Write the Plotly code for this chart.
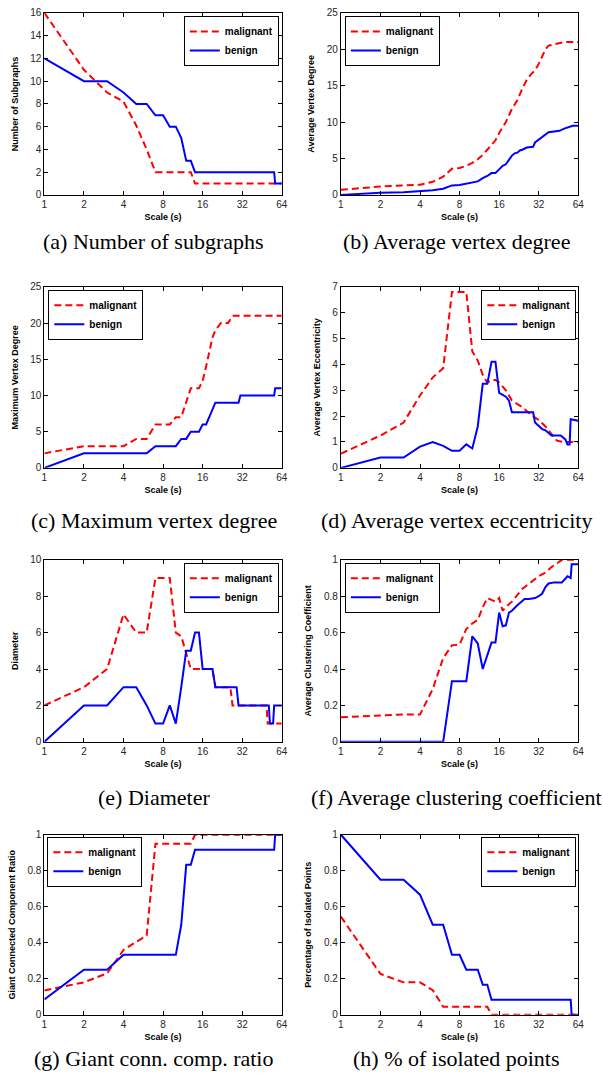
import plotly.graph_objects as go
from plotly.subplots import make_subplots

# ---------------- data ----------------
x_ticks = [1, 2, 4, 8, 16, 32, 64]
x_tick_labels = ["1", "2", "4", "8", "16", "32", "64"]
series_names = ["malignant", "benign"]

# (a) Number of subgraphs
a_mal_s = [1, 2, 3, 4, 5, 6, 7, 13, 14, 64]
a_mal_y = [16, 11, 9, 8.2, 6.1, 4, 2, 2, 1, 1]
a_ben_s = [1, 2, 3, 4, 5, 6, 7, 8, 9, 10, 11, 12, 13, 14, 56, 57, 64]
a_ben_y = [12, 10, 10, 9, 8, 8, 7, 7, 6, 6, 5, 3, 3, 2, 2, 1, 1]

# (b) Average vertex degree
b_mal_s = [1, 2, 3, 4, 5, 6, 7, 8, 9, 10, 11, 12, 13, 14, 15, 16, 17, 18, 20, 22, 24, 26, 28, 30, 32, 34, 36, 38, 40, 44, 50, 64]
b_mal_y = [0.7, 1.15, 1.3, 1.4, 1.8, 2.5, 3.6, 3.7, 4.0, 4.4, 4.9, 5.5, 6.2, 6.8, 7.5, 8.5, 9.2, 10.0, 11.8, 13.0, 14.6, 15.8, 16.6, 17.1, 18.0, 19.0, 20.0, 20.5, 20.6, 20.8, 21.0, 21.0]
b_ben_s = [1, 2, 3, 4, 5, 6, 7, 8, 9, 10, 11, 12, 13, 14, 15, 16, 17, 18, 19, 20, 21, 22, 23, 24, 26, 28, 29, 30, 32, 34, 36, 38, 42, 46, 50, 55, 58, 64]
b_ben_y = [0.0, 0.3, 0.35, 0.5, 0.65, 0.85, 1.3, 1.35, 1.5, 1.7, 1.85, 2.3, 2.6, 3.0, 3.0, 3.5, 4.0, 4.2, 4.8, 5.4, 5.7, 5.8, 6.1, 6.2, 6.5, 6.5, 6.6, 7.2, 7.6, 7.9, 8.3, 8.6, 8.7, 8.8, 9.1, 9.3, 9.5, 9.5]

# (c) Maximum vertex degree
c_mal_s = [1, 2, 4, 5, 6, 7, 9, 10, 11, 12, 13, 15, 16, 17, 18, 19, 20, 22, 25, 27, 64]
c_mal_y = [2, 3, 3, 4, 4, 6, 6, 7, 7, 9, 11, 11, 12, 14, 16, 18, 19, 20, 20, 21, 21]
c_ben_s = [1, 2, 6, 7, 10, 11, 12, 13, 15, 16, 17, 18, 20, 30, 31, 56, 57, 64]
c_ben_y = [0, 2, 2, 3, 3, 4, 4, 5, 5, 6, 6, 7, 9, 9, 10, 10, 11, 11]

# (d) Average vertex eccentricity
d_mal_s = [1, 2, 3, 4, 5, 6, 7, 8, 9, 10, 11, 12, 13, 14, 15, 16, 18, 20, 24, 28, 32, 36, 40, 44, 50, 64]
d_mal_y = [0.55, 1.25, 1.75, 2.8, 3.5, 3.85, 6.8, 6.8, 6.8, 4.5, 4.15, 3.6, 3.3, 3.4, 3.4, 3.3, 3.0, 2.6, 2.35, 2.05, 1.85, 1.6, 1.3, 1.05, 1.0, 1.0]
d_ben_s = [1, 2, 3, 4, 5, 6, 7, 8, 9, 10, 11, 12, 13, 14, 15, 16, 18, 19, 20, 29, 30, 32, 34, 36, 38, 40, 47, 51, 53, 55, 56, 64]
d_ben_y = [0.0, 0.4, 0.4, 0.82, 1.0, 0.85, 0.66, 0.66, 0.91, 0.75, 1.6, 3.25, 3.25, 4.1, 4.1, 2.9, 2.75, 2.6, 2.15, 2.15, 1.75, 1.6, 1.5, 1.45, 1.35, 1.25, 1.25, 1.1, 0.9, 0.9, 1.88, 1.82]

# (e) Diameter
e_mal_s = [1, 2, 3, 4, 5, 6, 7, 9, 10, 11, 13, 19, 20, 26, 27, 49, 50, 64]
e_mal_y = [2, 3, 4, 7, 6, 6, 9, 9, 6, 5.8, 4, 4, 3, 3, 2, 2, 1, 1]
e_ben_s = [1, 2, 3, 4, 5, 6, 7, 8, 9, 10, 11, 12, 13, 14, 15, 16, 19, 20, 29, 30, 51, 52, 55, 56, 64]
e_ben_y = [0, 2, 2, 3, 3, 2, 1, 1, 2, 1, 3, 5, 5, 6, 6, 4, 4, 3, 3, 2, 2, 1, 1, 2, 2]

# (f) Average clustering coefficient
f_mal_s = [1, 2, 3, 4, 5, 6, 7, 8, 9, 10, 11, 12, 13, 14, 15, 16, 17, 18, 20, 24, 28, 32, 36, 40, 44, 48, 64]
f_mal_y = [0.135, 0.145, 0.15, 0.15, 0.29, 0.46, 0.53, 0.535, 0.62, 0.65, 0.67, 0.74, 0.79, 0.78, 0.77, 0.79, 0.72, 0.74, 0.77, 0.84, 0.88, 0.91, 0.93, 0.96, 0.98, 1.0, 1.0]
f_ben_s = [1, 6, 7, 9, 10, 11, 12, 14, 15, 16, 17, 18, 19, 20, 22, 25, 27, 30, 32, 34, 36, 38, 42, 48, 53, 56, 57, 64]
f_ben_y = [0.0, 0.0, 0.333, 0.333, 0.58, 0.54, 0.40, 0.545, 0.545, 0.71, 0.635, 0.64, 0.71, 0.72, 0.75, 0.785, 0.785, 0.79, 0.80, 0.815, 0.85, 0.87, 0.876, 0.876, 0.91, 0.90, 0.975, 0.975]

# (g) Giant connected component ratio
g_mal_s = [1, 2, 3, 4, 5, 6, 7, 13, 14, 64]
g_mal_y = [0.135, 0.18, 0.23, 0.36, 0.405, 0.44, 0.95, 0.95, 1.0, 1.0]
g_ben_s = [1, 2, 3, 4, 10, 11, 12, 13, 14, 56, 57, 64]
g_ben_y = [0.085, 0.25, 0.25, 0.333, 0.333, 0.5, 0.833, 0.833, 0.917, 0.917, 1.0, 1.0]

# (h) Percentage of isolated points
h_mal_s = [1, 2, 3, 4, 5, 6, 13, 14, 64]
h_mal_y = [0.545, 0.227, 0.18, 0.18, 0.136, 0.045, 0.045, 0.0, 0.0]
h_ben_s = [1, 2, 3, 4, 5, 6, 7, 8, 9, 11, 12, 13, 14, 56, 57, 64]
h_ben_y = [1.0, 0.75, 0.75, 0.667, 0.5, 0.5, 0.333, 0.333, 0.25, 0.25, 0.167, 0.167, 0.083, 0.083, 0.0, 0.0]

y_titles = ["Number of Subgraphs", "Average Vertex Degree", "Maximum Vertex Degree",
            "Average Vertex Eccentricity", "Diameter", "Average Clustering Coefficient",
            "Giant Connected Component Ratio", "Percentage of Isolated Points"]
captions = ["(a) Number of subgraphs", "(b) Average vertex degree",
            "(c) Maximum vertex degree", "(d) Average vertex eccentricity",
            "(e) Diameter", "(f) Average clustering coefficient",
            "(g) Giant conn. comp. ratio", "(h) % of isolated points"]
y_ranges = [(0, 16), (0, 25), (0, 25), (0, 7), (0, 10), (0, 1), (0, 1), (0, 1)]
y_dticks = [2, 5, 5, 1, 2, 0.2, 0.2, 0.2]

panels = [
    (a_mal_s, a_mal_y, a_ben_s, a_ben_y),
    (b_mal_s, b_mal_y, b_ben_s, b_ben_y),
    (c_mal_s, c_mal_y, c_ben_s, c_ben_y),
    (d_mal_s, d_mal_y, d_ben_s, d_ben_y),
    (e_mal_s, e_mal_y, e_ben_s, e_ben_y),
    (f_mal_s, f_mal_y, f_ben_s, f_ben_y),
    (g_mal_s, g_mal_y, g_ben_s, g_ben_y),
    (h_mal_s, h_mal_y, h_ben_s, h_ben_y),
]

# ---------------- layout geometry (pixels) ----------------
W, H = 603, 1088
col_px = [(42, 283), (343, 584)]
row_px = [(7, 191), (284, 467), (560, 744), (838, 1020)]
caption_y_px = [238, 520, 800, 1064]
caption_x_px = [153, 460]
# legend anchor (x px, y px, side)
legend_px = [(280, 10, "right"), (347, 10, "left"),
             (46, 287, "left"), (582, 287, "right"),
             (280, 563, "right"), (347, 563, "left"),
             (45, 840, "left"), (582, 840, "right")]

TXT = "#262626"
fig = make_subplots(rows=4, cols=2)

for i, (ms, my, bs, by) in enumerate(panels):
    r, c = divmod(i, 2)
    lg = "legend" if i == 0 else f"legend{i+1}"
    fig.add_trace(go.Scatter(x=ms, y=my, mode="lines", name=series_names[0],
                             line=dict(color="#FF0000", width=2, dash="7px,4px"),
                             legend=lg, showlegend=True), row=r + 1, col=c + 1)
    fig.add_trace(go.Scatter(x=bs, y=by, mode="lines", name=series_names[1],
                             line=dict(color="#0000FF", width=2),
                             legend=lg, showlegend=True), row=r + 1, col=c + 1)

    xa = "xaxis" if i == 0 else f"xaxis{i+1}"
    ya = "yaxis" if i == 0 else f"yaxis{i+1}"
    x0, x1 = col_px[c]
    y0, y1 = row_px[r]
    fig.layout[xa].update(
        type="log", range=[0, 1.80618], domain=[x0 / W, x1 / W],
        tickvals=x_ticks, ticktext=x_tick_labels,
        ticks="inside", ticklen=4, tickcolor="black", mirror="ticks",
        showline=True, linecolor="black", linewidth=1, showgrid=False, zeroline=False,
        tickfont=dict(family="Liberation Sans, Arial", size=10, color=TXT),
        title=dict(text="<b>Scale (s)</b>", standoff=4,
                   font=dict(family="Liberation Sans, Arial", size=9, color="black")),
    )
    fig.layout[ya].update(
        range=list(y_ranges[i]), dtick=y_dticks[i], tick0=0, domain=[1 - y1 / H, 1 - y0 / H],
        ticks="inside", ticklen=4, tickcolor="black", mirror="ticks",
        showline=True, linecolor="black", linewidth=1, showgrid=False, zeroline=False,
        tickfont=dict(family="Liberation Sans, Arial", size=10, color=TXT),
        title=dict(text=f"<b>{y_titles[i]}</b>", standoff=10,
                   font=dict(family="Liberation Sans, Arial", size=9, color="black")),
    )

    lx, ly, side = legend_px[i]
    fig.layout[lg] = dict(
        x=lx / W, y=1 - ly / H, xref="paper", yref="paper",
        xanchor=side, yanchor="top",
        bgcolor="white", bordercolor="black", borderwidth=1,
        font=dict(family="Liberation Sans, Arial", size=10, color="black", weight="bold"),
        itemwidth=30, tracegroupgap=0,
    )

    fig.add_annotation(text=captions[i], x=caption_x_px[c] / W, y=1 - caption_y_px[r] / H,
                       xref="paper", yref="paper", showarrow=False,
                       xanchor="center", yanchor="middle",
                       font=dict(family="Liberation Serif, Times New Roman", size=22, color="black"))

fig.update_layout(width=W, height=H, margin=dict(l=0, r=0, t=0, b=0),
                  plot_bgcolor="white", paper_bgcolor="white")

fig.write_html("out.html", config={"displayModeBar": False},
               post_script="document.body.style.margin='0';document.body.style.overflow='hidden';")
